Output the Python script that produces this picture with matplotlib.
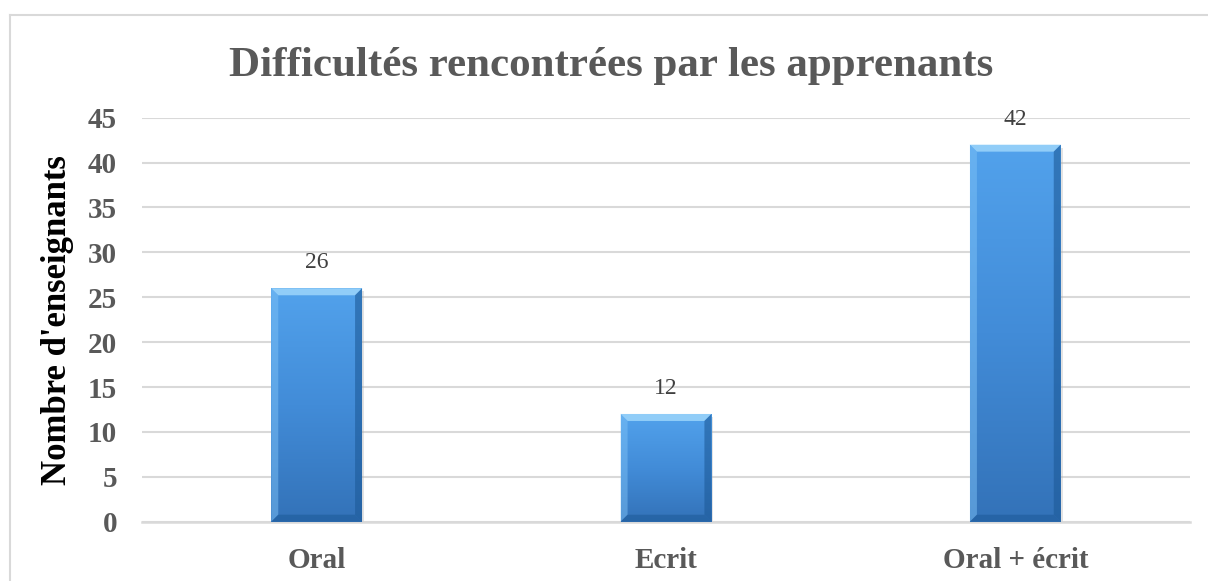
import numpy as np
import matplotlib
matplotlib.use("Agg")
import matplotlib.pyplot as plt
from matplotlib.colors import LinearSegmentedColormap
from matplotlib.patches import Polygon, Rectangle
from matplotlib.lines import Line2D

categories = ["Oral", "Ecrit", "Oral + écrit"]
values = [26, 12, 42]
yticks = [0, 5, 10, 15, 20, 25, 30, 35, 40, 45]
title = "Difficultés rencontrées par les apprenants"
ylabel = "Nombre d'enseignants"

W, H = 1208, 581
plt.rcParams['font.family'] = ['Liberation Serif', 'DejaVu Serif']
fig = plt.figure(figsize=(W / 100, H / 100), dpi=100)
fig.patch.set_facecolor('white')

# frame of the chart (right and bottom run past the image)
border = '#d9d9d9'
fig.add_artist(Line2D([10 / W, 1.0], [1 - 15 / H, 1 - 15 / H], color=border, lw=1.5, transform=fig.transFigure))
fig.add_artist(Line2D([10 / W, 10 / W], [0, 1 - 15 / H], color=border, lw=1.5, transform=fig.transFigure))

ax_l, ax_r = 142 / W, 1190 / W
ax_b, ax_t = (H - 521.7) / H, (H - 117.7) / H
ax = fig.add_axes([ax_l, ax_b, ax_r - ax_l, ax_t - ax_b])
ax.set_facecolor('none')

x = np.arange(len(categories))
bar_w = 0.26
bars = ax.bar(x, values, width=bar_w, color='none', edgecolor='none', zorder=3)

xlim = (-0.5, len(categories) - 0.5)
ylim = (0, 45)
ax.set_xlim(*xlim)
ax.set_ylim(*ylim)

px_x = (ax_r - ax_l) * W / (xlim[1] - xlim[0])
px_y = (ax_t - ax_b) * H / (ylim[1] - ylim[0])
dx = 7 / px_x
dy = 7 / px_y

cmap = LinearSegmentedColormap.from_list('b', ['#3372b8', '#428cd8', '#52a2ec'])
grad = np.linspace(0, 1, 256).reshape(-1, 1)

for p in bars.patches:
    x0, y0 = p.get_x(), p.get_y()
    w, h = p.get_width(), p.get_height()
    x1, y1 = x0 + w, y0 + h
    # soft shadow
    sh = Rectangle((x0 + 2 / px_x, y0 - 3 / px_y), w, h, facecolor='#b0b0b0', alpha=0.35,
                   edgecolor='none', zorder=2)
    ax.add_patch(sh)
    im = ax.imshow(grad, extent=[x0, x1, y0, y1], origin='lower', aspect='auto',
                   cmap=cmap, zorder=3, interpolation='bilinear')
    im.set_clip_path(p)
    top = Polygon([(x0, y1), (x1, y1), (x1 - dx, y1 - dy), (x0 + dx, y1 - dy)],
                  closed=True, facecolor='#9dd6fb', alpha=0.85, edgecolor='none', zorder=4)
    left = Polygon([(x0, y0), (x0, y1), (x0 + dx, y1 - dy), (x0 + dx, y0 + dy)],
                   closed=True, facecolor='#7cc0f5', alpha=0.5, edgecolor='none', zorder=4)
    right = Polygon([(x1, y0), (x1, y1), (x1 - dx, y1 - dy), (x1 - dx, y0 + dy)],
                    closed=True, facecolor='#1d5a98', alpha=0.6, edgecolor='none', zorder=4)
    bottom = Polygon([(x0, y0), (x1, y0), (x1 - dx, y0 + dy), (x0 + dx, y0 + dy)],
                     closed=True, facecolor='#1d5a98', alpha=0.55, edgecolor='none', zorder=4)
    for poly in (top, left, right, bottom):
        ax.add_patch(poly)
    ax.text(p.get_x() + w / 2, y1 + 15 / px_y, f"{int(h)}", ha='center', va='bottom',
            fontsize=17, color='#404040', zorder=5)

ax.set_xlim(*xlim)
ax.set_ylim(*ylim)

ax.set_yticks(yticks)
ax.yaxis.grid(True, color='#d9d9d9', lw=1.5, zorder=0)
ax.set_axisbelow(True)
ax.set_xticks(x)
ax.set_xticklabels(categories)
for s in ['top', 'right', 'left']:
    ax.spines[s].set_visible(False)
ax.spines['bottom'].set_color('#d9d9d9')
ax.spines['bottom'].set_linewidth(1.8)
ax.tick_params(axis='both', length=0, labelsize=21, labelcolor='#595959')
ax.tick_params(axis='y', pad=18)
ax.tick_params(axis='x', pad=18)
for lab in ax.get_xticklabels() + ax.get_yticklabels():
    lab.set_fontweight('bold')

ax.set_ylabel(ylabel, fontsize=25, fontweight='bold', color='black', labelpad=10)

fig.text(611 / W, 1 - 76 / H, title, ha='center', va='baseline', fontsize=31,
         fontweight='bold', color='#595959')

fig.savefig('out.png', dpi=100)
